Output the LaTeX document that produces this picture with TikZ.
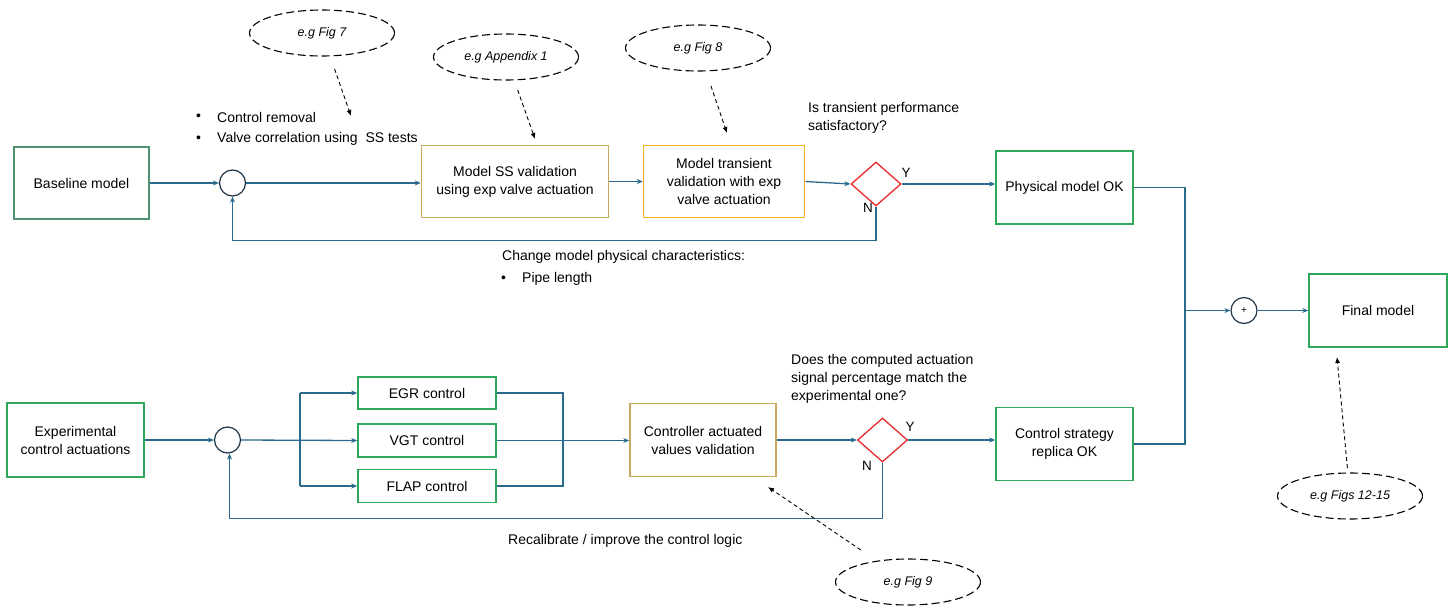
\documentclass[tikz,border=0pt]{standalone}
\usepackage{fontspec}
\setmainfont{Liberation Sans}
\usetikzlibrary{shapes.geometric,arrows.meta,calc}
\definecolor{conn}{HTML}{2B6A8C}
\definecolor{gbox}{HTML}{2EA85A}
\definecolor{gbase}{HTML}{4E9470}
\definecolor{tanbox}{HTML}{C9AA5E}
\definecolor{ybox}{HTML}{F2B418}
\definecolor{rdiam}{HTML}{E42A2A}
\definecolor{circ}{HTML}{1E3448}
\begin{document}
\begin{tikzpicture}[x=1pt,y=-1pt,
  box/.style={draw, line width=1.6pt, fill=white, align=center, inner sep=0pt, font=\fontsize{14}{18}\selectfont},
  sumc/.style={draw=circ, circle, line width=1.2pt, minimum size=26pt, inner sep=0pt, font=\fontsize{10}{12}\selectfont},
  dec/.style={draw=rdiam, diamond, line width=1.3pt, minimum width=50pt, minimum height=44pt, inner sep=0pt},
  wire/.style={draw=conn, line width=1.3pt},
  conn/.style={wire, -{Stealth[length=6pt,width=5pt]}},
  ell/.style={draw=black, ellipse, line width=1.1pt, dash pattern=on 8pt off 4pt, minimum width=145pt, minimum height=46pt, inner sep=0pt, font=\fontsize{12.5}{14}\selectfont\itshape},
  darr/.style={draw=black, line width=0.9pt, dash pattern=on 4pt off 3pt, -{Latex[length=6pt,width=5pt]}},
  txt/.style={inner sep=0pt, anchor=west, font=\fontsize{14}{18}\selectfont},
  txtl/.style={inner sep=0pt, anchor=north west, align=left, font=\fontsize{14}{18}\selectfont},
  yn/.style={inner sep=0pt, font=\fontsize{13.5}{15}\selectfont}
]
\useasboundingbox (0,0) rectangle (1450,608);

% ---------- top row ----------
\node[box, draw=gbase, minimum width=135pt, minimum height=72pt] (base) at (81.5,183) {Baseline model};
\node[sumc] (c1) at (232.5,183) {};
\node[box, draw=tanbox, minimum width=187pt, minimum height=72pt] (ss) at (515,181.5) {Model SS validation\\using exp valve actuation};
\node[box, draw=ybox, minimum width=161pt, minimum height=72pt] (tr) at (724,181.5) {Model transient\\validation with exp\\valve actuation};
\node[dec] (d1) at (876,184) {};
\node[yn] (y1) at (906,173) {Y};
\node[yn] (n1) at (868,208) {N};
\node[box, draw=gbox, minimum width=137pt, minimum height=73pt] (phys) at (1064.5,187.5) {Physical model OK};

\draw[conn] (base.east) -- (c1.west);
\draw[conn] (c1.east) -- (c1.east -| ss.west);
\draw[conn] (ss.east) -- (tr.west);
\draw[conn] (tr.east) -- (d1.west);
\draw[conn] (d1.east) -- (d1.east -| phys.west);
\draw[conn] (d1.south) -- ++(0,34) -| (c1.south);

% texts top
\node[txt] (b1) at (196,117) {•};
\node[txt] (t1) at (217,117) {Control removal};
\node[txt] (b2) at (196,139) {•};
\node[txt] (t2) at (217,139) {Valve correlation using\ \ SS tests};
\node[txtl] (q1) at (808,102) {Is transient performance\\satisfactory?};
\node[txt] (ch) at (502,257) {Change model physical characteristics:};
\node[txt] (b3) at (501,279) {•};
\node[txt] (pl) at (522,279) {Pipe length};

% ellipses top
\node[ell] (e7) at (322,33) {e.g Fig 7};
\node[ell] (e1) at (506,57) {e.g Appendix 1};
\node[ell] (e8) at (698,48) {e.g Fig 8};
\coordinate (a7) at (351,116);
\coordinate (a1) at (535,139);
\coordinate (a8) at (727,133);
\draw[darr, shorten <=38pt] (e7.center) -- (a7);
\draw[darr, shorten <=35pt] (e1.center) -- (a1);
\draw[darr, shorten <=40pt] (e8.center) -- (a8);

% ---------- right ----------
\node[box, draw=gbox, minimum width=138pt, minimum height=73pt] (final) at (1378,310.5) {Final model};
\node[sumc] (plus) at (1244,310.5) {+};
\coordinate (j) at (1185,310.5);

% ---------- bottom row ----------
\node[box, draw=gbox, minimum width=137pt, minimum height=74pt] (exp) at (75.5,440) {Experimental\\control actuations};
\node[sumc] (c2) at (227.5,440) {};
\node[box, draw=gbox, minimum width=138pt, minimum height=32pt] (egr) at (427,393) {EGR control};
\node[box, draw=gbox, minimum width=138pt, minimum height=33pt] (vgt) at (427,440.5) {VGT control};
\node[box, draw=gbox, minimum width=138pt, minimum height=33pt] (flap) at (427,486) {FLAP control};
\coordinate (s) at (300,440);
\coordinate (m) at (563,440);
\node[box, draw=tanbox, minimum width=146pt, minimum height=73pt] (ctrl) at (703,440) {Controller actuated\\values validation};
\node[dec] (d2) at (882.5,440) {};
\node[yn] (y2) at (910,427) {Y};
\node[yn] (n2) at (867,466) {N};
\node[box, draw=gbox, minimum width=137pt, minimum height=73pt] (cs) at (1064.5,444) {Control strategy\\replica OK};

\draw[conn] (exp.east) -- (c2.west);
\draw[conn] (c2.east) -- (vgt.west);
\draw[wire] (egr.west -| s) -- (flap.west -| s);
\draw[conn] (egr.west -| s) -- (egr.west);
\draw[conn] (flap.west -| s) -- (flap.west);
\draw[wire] (egr.east) -- (egr.east -| m) -- (flap.east -| m) -- (flap.east);
\draw[conn] (vgt.east) -- (vgt.east -| ctrl.west);
\draw[conn] (ctrl.east) -- (d2.west);
\draw[conn] (d2.east) -- (d2.east -| cs.west);
\draw[conn] (d2.south) -- ++(0,56) -| ([xshift=2pt]c2.south);

% right bus
\draw[wire] (phys.east) -- (phys.east -| j) -- (cs.east -| j) -- (cs.east);
\draw[conn] (j) -- (plus.west);
\draw[conn] (plus.east) -- (final.west);

% texts bottom
\node[txtl] (q2) at (791,354) {Does the computed actuation\\signal percentage match the\\experimental one?};
\node[txt] (rc) at (508,541) {Recalibrate / improve the control logic};

% ellipses bottom
\node[ell] (e9) at (908,582) {e.g Fig 9};
\node[ell] (e12) at (1350,496) {e.g Figs 12-15};
\coordinate (a9) at (768,487);
\coordinate (a12) at (1337,357);
\draw[darr, shorten <=57pt] (e9.center) -- (a9);
\draw[darr, shorten <=28pt] (e12.center) -- (a12);
\end{tikzpicture}
\end{document}
